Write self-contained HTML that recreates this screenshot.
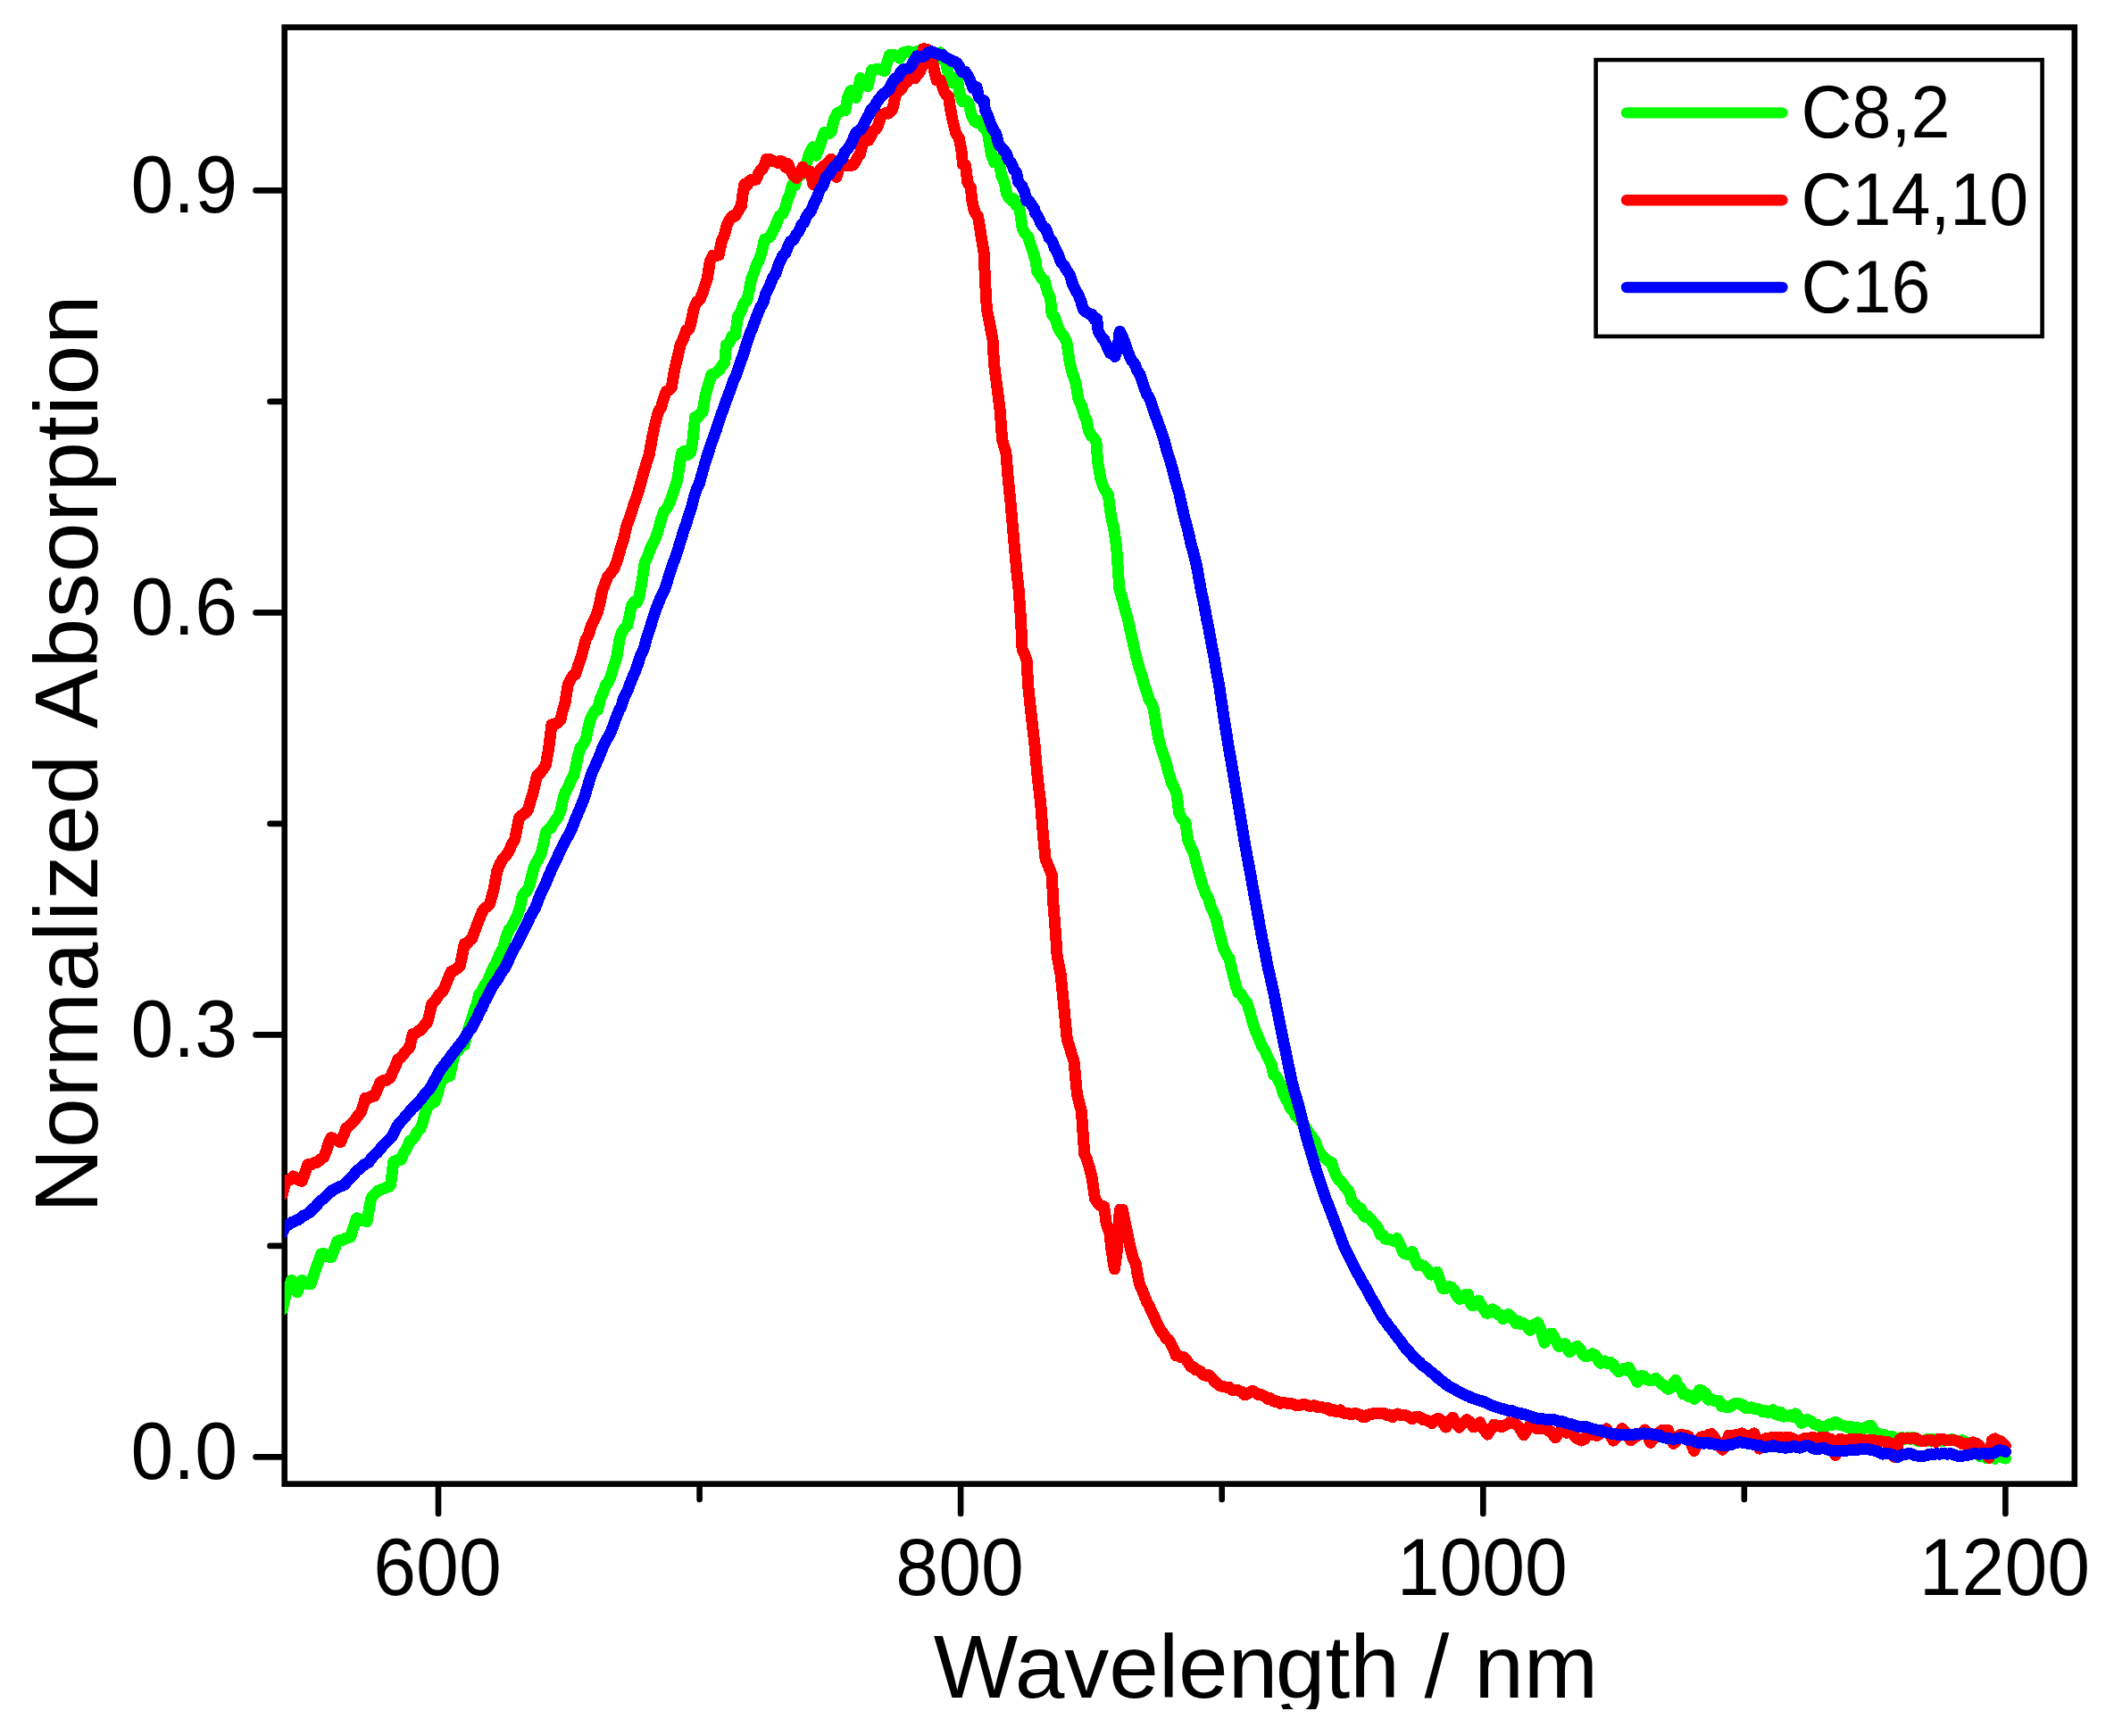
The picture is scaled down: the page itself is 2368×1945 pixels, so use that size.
<!DOCTYPE html>
<html lang="en"><head><meta charset="utf-8"><title>Normalized Absorption</title>
<style>
html,body{margin:0;padding:0;background:#fff;}
body{width:2368px;height:1945px;overflow:hidden;}
svg{display:block;}
text{font-kerning:none;font-family:"Liberation Sans",Arial,Helvetica,sans-serif;fill:#000;}
.tick{font-size:86px;}
.title{font-size:100px;}
.leg{font-size:79px;}
.curve{shape-rendering:crispEdges;fill:none;stroke-width:13;stroke-linejoin:round;stroke-linecap:round;}
</style></head><body>
<svg width="2368" height="1945" viewBox="0 0 2368 1945">
<rect x="0" y="0" width="2368" height="1945" fill="#fff"/>
<defs><clipPath id="plot"><rect x="318.7" y="30.6" width="2005.1" height="1632.0"/></clipPath>
<clipPath id="xt"><rect x="0" y="0" width="2368" height="1915"/></clipPath></defs>

<rect x="318.7" y="30.6" width="2005.1" height="1632.0" fill="none" stroke="#000" stroke-width="6.6"/>
<path d="M491.0,1665.9 V1696 M1076.1,1665.9 V1696 M1661.3,1665.9 V1696 M2246.4,1665.9 V1696 M783.6,1665.9 V1680 M1368.7,1665.9 V1680 M1953.8,1665.9 V1680 M315.4,1632.4 H286.5 M315.4,1159.4 H286.5 M315.4,686.4 H286.5 M315.4,213.4 H286.5 M315.4,1395.9 H302.5 M315.4,922.9 H302.5 M315.4,449.9 H302.5" stroke="#000" stroke-width="6.6" stroke-linecap="round" fill="none"/>
<g clip-path="url(#plot)">
<path class="curve" stroke="#00ff00" d="M316.0,1467.9 L319.9,1451.2 L323.2,1443.7 L326.5,1434.4 L329.8,1441.2 L333.1,1448.0 L335.6,1440.5 L338.1,1434.5 L341.4,1436.4 L344.7,1438.5 L348.0,1438.6 L350.9,1430.4 L353.8,1421.2 L356.7,1414.1 L359.6,1405.1 L362.5,1404.5 L365.4,1407.4 L368.3,1408.2 L371.2,1408.3 L374.5,1400.0 L377.8,1390.7 L380.8,1389.4 L383.8,1389.6 L386.7,1387.5 L389.7,1386.8 L392.7,1385.9 L396.0,1374.7 L399.4,1364.9 L402.3,1365.7 L405.2,1367.4 L408.1,1367.5 L411.0,1368.6 L413.4,1355.0 L415.9,1342.2 L419.2,1338.4 L422.6,1334.7 L425.9,1333.1 L428.8,1332.2 L431.7,1331.0 L434.6,1329.9 L437.5,1328.2 L440.8,1301.5 L443.6,1300.5 L446.3,1298.8 L449.1,1299.3 L452.4,1291.9 L455.7,1286.3 L459.0,1278.6 L461.9,1276.7 L464.8,1273.1 L467.7,1267.7 L470.6,1264.9 L473.4,1257.8 L476.1,1247.9 L478.9,1240.3 L481.6,1237.2 L484.4,1234.7 L487.1,1234.5 L490.5,1224.1 L493.8,1212.0 L497.1,1208.7 L500.4,1206.6 L503.7,1205.5 L506.2,1194.2 L508.7,1181.8 L511.6,1178.9 L514.5,1175.3 L517.4,1172.0 L520.3,1170.8 L522.8,1159.8 L525.2,1151.7 L528.5,1141.4 L531.9,1130.7 L534.3,1124.0 L536.8,1113.9 L540.1,1109.9 L543.5,1102.8 L546.8,1098.3 L549.6,1091.0 L552.3,1084.5 L555.1,1080.1 L557.8,1074.0 L560.6,1066.9 L563.3,1063.2 L566.6,1051.2 L570.0,1041.9 L573.3,1037.8 L576.6,1031.6 L579.9,1024.3 L582.4,1017.3 L584.9,1004.7 L587.6,1000.5 L590.4,997.8 L593.1,991.9 L595.6,981.8 L598.1,971.1 L600.9,965.6 L603.6,961.8 L606.4,955.1 L608.9,944.8 L611.4,932.4 L614.1,929.4 L616.9,928.0 L619.6,922.8 L622.4,918.8 L625.1,915.5 L627.9,908.5 L630.4,896.7 L632.9,888.1 L636.2,882.2 L639.5,874.4 L642.8,868.6 L645.3,857.6 L647.8,845.3 L650.6,836.6 L653.3,834.3 L656.1,828.6 L658.5,817.4 L661.0,806.7 L663.8,800.8 L666.5,796.1 L669.3,795.8 L672.6,782.6 L676.0,774.9 L678.7,767.2 L681.5,764.4 L684.2,757.8 L687.5,746.4 L690.9,735.8 L694.2,715.3 L697.0,707.6 L699.7,704.0 L702.5,701.3 L705.0,691.2 L707.4,678.4 L710.2,674.4 L712.9,675.6 L715.7,669.6 L719.0,652.0 L722.3,630.1 L725.2,624.5 L728.1,615.7 L731.0,609.7 L733.9,604.2 L737.2,594.8 L740.6,581.6 L743.9,572.4 L746.6,570.0 L749.4,565.1 L752.1,557.6 L755.5,547.8 L758.8,537.2 L761.2,521.1 L763.7,507.2 L767.0,505.4 L770.4,509.6 L773.7,506.6 L776.2,491.0 L778.6,467.2 L781.4,468.1 L784.1,463.7 L786.9,462.1 L790.2,442.7 L793.5,431.0 L796.8,419.9 L800.2,418.9 L803.5,415.9 L806.3,413.8 L809.0,409.3 L811.8,405.7 L813.4,386.6 L816.7,384.2 L820.1,376.6 L823.4,375.8 L826.7,354.4 L830.0,348.7 L833.3,339.5 L836.6,337.0 L839.1,326.1 L841.6,312.1 L844.4,305.9 L847.1,297.2 L849.9,292.3 L853.2,282.6 L856.5,268.1 L859.8,267.1 L863.1,264.5 L866.4,257.7 L869.7,250.6 L873.0,242.1 L876.4,239.7 L879.7,232.7 L882.2,223.2 L884.6,218.5 L887.6,206.6 L890.5,207.8 L893.5,196.1 L896.5,196.5 L899.6,190.6 L902.8,185.3 L906.4,172.5 L910.6,164.9 L914.2,174.2 L918.4,163.2 L920.9,155.3 L923.4,148.6 L926.0,148.9 L928.6,149.5 L931.2,147.5 L934.1,134.0 L937.6,127.1 L940.7,125.4 L943.8,123.7 L946.8,124.0 L949.7,108.9 L953.2,101.4 L956.1,104.3 L958.9,109.3 L961.4,98.7 L963.9,87.4 L966.5,90.8 L969.1,92.8 L971.7,96.9 L974.1,87.6 L976.6,78.6 L979.8,78.0 L983.0,77.3 L985.6,78.0 L988.2,78.2 L990.8,79.6 L993.7,69.8 L996.5,61.6 L999.0,62.2 L1001.5,61.4 L1004.7,62.9 L1007.8,65.2 L1012.1,58.8 L1014.9,58.2 L1017.8,57.4 L1020.6,58.8 L1023.9,59.3 L1027.2,57.7 L1030.6,56.5 L1033.4,56.7 L1036.2,59.6 L1039.1,57.4 L1041.9,59.7 L1044.7,60.5 L1047.6,59.4 L1050.4,65.8 L1053.3,58.8 L1056.1,61.5 L1058.4,65.4 L1060.7,75.8 L1064.8,92.5 L1068.5,87.6 L1072.3,88.1 L1074.6,103.8 L1078.0,113.9 L1081.5,112.6 L1084.9,115.1 L1088.4,129.7 L1091.8,135.8 L1094.7,137.9 L1097.6,135.8 L1099.9,138.9 L1102.8,144.6 L1105.7,144.5 L1107.4,154.4 L1110.3,172.8 L1113.7,182.0 L1116.3,178.3 L1118.9,180.7 L1121.8,197.0 L1125.3,204.9 L1127.6,217.0 L1129.9,221.4 L1132.7,224.4 L1135.6,222.8 L1137.9,229.9 L1141.4,232.1 L1142.5,236.3 L1145.1,255.7 L1148.4,262.1 L1151.7,265.2 L1154.5,274.6 L1157.2,282.7 L1160.0,291.8 L1161.7,303.9 L1164.5,307.7 L1167.2,312.5 L1170.0,314.0 L1173.3,326.7 L1176.6,334.4 L1178.2,352.4 L1181.6,355.5 L1184.9,366.2 L1188.2,372.5 L1191.5,376.6 L1194.8,382.7 L1198.1,405.4 L1201.4,418.7 L1204.7,427.6 L1208.0,447.4 L1211.3,454.2 L1214.7,465.9 L1217.2,470.9 L1219.6,483.2 L1222.4,488.3 L1225.1,490.5 L1227.9,494.2 L1229.6,516.5 L1232.9,537.0 L1235.7,545.0 L1238.4,549.9 L1241.2,553.7 L1244.5,578.4 L1247.6,591.5 L1250.7,613.3 L1253.8,659.4 L1257.4,671.9 L1261.0,685.9 L1263.5,694.1 L1266.0,705.8 L1269.3,720.9 L1272.6,735.2 L1275.9,747.3 L1279.3,758.2 L1281.8,767.7 L1284.2,773.9 L1287.0,783.7 L1289.7,787.5 L1292.5,795.8 L1295.0,812.1 L1297.5,826.0 L1300.3,836.7 L1303.0,845.2 L1305.8,853.5 L1309.1,866.4 L1312.4,876.8 L1315.2,882.4 L1318.0,889.3 L1320.7,911.0 L1324.3,917.8 L1328.0,921.8 L1330.6,940.8 L1333.9,949.5 L1337.2,956.1 L1339.7,966.2 L1342.2,974.8 L1344.7,984.3 L1347.2,992.5 L1350.5,1001.1 L1353.8,1007.4 L1356.6,1017.2 L1359.3,1022.3 L1362.1,1028.6 L1364.5,1039.8 L1367.0,1049.0 L1370.4,1062.0 L1373.7,1069.3 L1377.0,1073.9 L1379.5,1085.4 L1381.9,1094.8 L1384.4,1104.7 L1386.9,1112.0 L1390.2,1114.1 L1393.6,1119.9 L1396.9,1123.4 L1400.2,1134.7 L1403.5,1146.3 L1406.8,1156.0 L1410.1,1163.5 L1413.4,1172.1 L1416.2,1175.9 L1418.9,1182.2 L1421.7,1188.0 L1424.2,1192.8 L1426.7,1203.9 L1429.4,1205.6 L1432.2,1211.3 L1434.9,1216.4 L1437.4,1225.0 L1439.9,1230.0 L1442.7,1235.1 L1445.4,1241.3 L1448.2,1244.0 L1451.0,1250.0 L1453.7,1250.7 L1456.5,1255.7 L1459.2,1258.5 L1462.0,1262.1 L1464.8,1267.4 L1467.5,1270.9 L1470.2,1274.5 L1473.0,1278.5 L1476.3,1287.3 L1479.7,1293.9 L1482.6,1295.8 L1485.5,1299.3 L1488.4,1301.0 L1491.3,1302.2 L1493.8,1310.2 L1496.2,1315.8 L1499.5,1321.8 L1502.8,1324.0 L1505.6,1329.0 L1508.3,1332.1 L1511.1,1335.3 L1514.4,1346.0 L1517.7,1348.8 L1521.1,1354.2 L1524.4,1353.9 L1526.8,1360.6 L1529.3,1363.4 L1532.1,1362.3 L1534.8,1365.0 L1537.6,1369.3 L1540.5,1371.8 L1543.4,1375.6 L1546.3,1383.4 L1549.2,1384.1 L1552.0,1388.3 L1554.9,1388.0 L1558.2,1389.2 L1561.4,1390.4 L1564.7,1387.5 L1568.3,1395.0 L1572.0,1403.8 L1575.3,1405.2 L1578.5,1405.9 L1581.8,1402.5 L1584.8,1410.4 L1587.9,1417.6 L1591.6,1417.1 L1595.3,1418.5 L1598.9,1422.5 L1602.6,1428.1 L1606.3,1427.0 L1610.0,1425.5 L1613.0,1435.7 L1616.1,1443.5 L1619.4,1443.7 L1622.6,1441.8 L1625.9,1442.0 L1628.8,1445.4 L1631.6,1451.4 L1634.5,1455.4 L1637.8,1454.7 L1641.0,1450.6 L1644.3,1450.1 L1646.8,1459.5 L1649.2,1462.8 L1652.8,1461.7 L1656.5,1457.3 L1659.4,1462.5 L1662.2,1467.2 L1665.1,1471.3 L1668.4,1470.8 L1671.6,1467.0 L1674.9,1468.8 L1677.7,1472.7 L1680.6,1473.0 L1683.4,1477.5 L1686.5,1476.3 L1689.6,1472.4 L1692.4,1474.7 L1695.3,1477.9 L1698.1,1482.7 L1701.0,1480.1 L1703.8,1483.5 L1706.7,1482.7 L1710.3,1486.0 L1714.0,1490.3 L1716.9,1486.8 L1719.7,1483.4 L1722.6,1481.8 L1726.3,1491.8 L1730.0,1504.3 L1732.8,1500.3 L1735.7,1494.6 L1738.5,1494.2 L1742.2,1500.8 L1745.9,1508.3 L1749.6,1507.9 L1753.2,1505.5 L1755.7,1511.3 L1758.1,1514.9 L1761.0,1512.0 L1763.8,1510.3 L1766.7,1508.3 L1770.0,1511.6 L1773.2,1517.9 L1776.5,1519.9 L1780.2,1518.7 L1783.8,1516.8 L1786.7,1518.0 L1789.5,1522.8 L1792.4,1527.3 L1795.2,1526.9 L1797.9,1524.9 L1800.7,1527.7 L1803.4,1526.1 L1806.7,1528.4 L1809.9,1533.5 L1813.2,1536.8 L1816.0,1535.4 L1818.7,1533.6 L1821.5,1535.0 L1824.2,1532.2 L1827.5,1537.4 L1830.7,1542.5 L1834.0,1548.3 L1837.7,1541.7 L1841.4,1541.9 L1844.5,1545.5 L1847.5,1546.4 L1851.2,1546.4 L1854.8,1544.2 L1858.2,1547.6 L1861.5,1551.2 L1864.9,1552.8 L1868.3,1556.2 L1871.2,1555.4 L1874.0,1550.1 L1876.9,1546.2 L1879.7,1552.8 L1882.6,1555.5 L1885.4,1561.9 L1888.5,1562.2 L1891.6,1564.8 L1894.6,1563.4 L1897.7,1567.5 L1900.5,1564.5 L1903.4,1557.7 L1906.2,1557.9 L1909.9,1560.7 L1913.6,1568.2 L1916.4,1567.2 L1919.3,1569.1 L1922.1,1570.0 L1925.2,1569.4 L1928.2,1575.2 L1931.3,1574.7 L1934.4,1577.0 L1937.6,1576.1 L1940.8,1573.8 L1943.9,1572.2 L1947.1,1572.5 L1949.9,1573.7 L1952.7,1574.1 L1955.5,1577.6 L1958.3,1577.4 L1961.6,1576.8 L1964.9,1578.4 L1968.2,1578.2 L1971.5,1579.3 L1974.4,1581.9 L1977.3,1580.3 L1980.2,1582.5 L1983.1,1581.9 L1986.0,1579.6 L1988.9,1584.6 L1991.8,1585.2 L1994.7,1582.2 L1998.0,1587.1 L2001.3,1586.3 L2004.6,1585.9 L2008.0,1587.5 L2011.3,1583.8 L2014.6,1588.8 L2017.9,1594.3 L2021.2,1592.5 L2024.5,1590.6 L2027.8,1592.0 L2030.6,1594.1 L2033.3,1595.9 L2036.1,1596.5 L2039.4,1599.0 L2042.7,1598.5 L2046.0,1597.7 L2048.9,1595.8 L2051.8,1596.6 L2054.7,1593.6 L2057.6,1593.7 L2060.9,1596.4 L2064.2,1597.1 L2067.5,1598.0 L2070.6,1599.4 L2073.8,1598.6 L2076.9,1600.2 L2080.0,1599.1 L2083.2,1601.2 L2086.3,1601.0 L2089.4,1600.0 L2092.6,1597.8 L2095.7,1597.3 L2098.6,1603.0 L2101.5,1604.8 L2104.4,1606.4 L2107.3,1607.5 L2110.2,1607.3 L2113.1,1609.3 L2116.0,1609.0 L2118.9,1609.3 L2121.7,1610.9 L2124.4,1612.8 L2127.2,1611.7 L2130.5,1610.6 L2133.8,1612.4 L2137.1,1610.7 L2140.0,1612.2 L2142.9,1610.2 L2145.8,1612.0 L2148.7,1614.6 L2152.0,1614.7 L2155.3,1615.0 L2158.6,1612.2 L2161.6,1614.1 L2164.7,1612.0 L2167.7,1612.1 L2170.7,1614.7 L2173.8,1614.1 L2176.8,1614.5 L2179.8,1613.3 L2182.9,1613.8 L2185.9,1612.6 L2188.9,1613.2 L2192.0,1615.0 L2195.0,1615.4 L2198.3,1613.7 L2201.7,1615.5 L2205.0,1619.8 L2208.3,1620.2 L2211.6,1622.1 L2214.9,1620.9 L2218.2,1631.8 L2221.5,1631.0 L2224.8,1633.5 L2228.2,1631.5 L2231.5,1632.8 L2234.5,1634.3 L2237.5,1631.3 L2240.4,1632.3 L2243.4,1633.2 L2246.4,1634.0"/>
<path class="curve" stroke="#ff0000" d="M316.0,1338.8 L319.9,1324.5 L322.7,1322.1 L325.4,1321.7 L328.2,1318.0 L331.5,1319.6 L334.8,1322.2 L338.1,1323.3 L341.4,1315.2 L344.7,1304.9 L348.0,1305.2 L351.4,1302.9 L354.7,1302.3 L357.4,1300.7 L360.2,1298.0 L362.9,1296.2 L365.7,1288.6 L368.4,1280.2 L371.2,1274.6 L374.5,1276.3 L377.9,1277.9 L381.2,1279.9 L384.5,1272.9 L387.8,1264.2 L391.1,1261.5 L394.4,1257.9 L397.7,1254.9 L401.0,1250.0 L404.3,1246.1 L406.8,1238.5 L409.3,1230.3 L412.6,1230.6 L415.9,1228.2 L419.2,1228.1 L422.5,1221.0 L425.9,1212.9 L428.8,1210.6 L431.7,1210.8 L434.6,1209.3 L437.5,1207.0 L440.2,1200.1 L443.0,1194.5 L445.7,1186.8 L449.0,1185.0 L452.4,1180.5 L455.7,1176.8 L459.0,1172.9 L462.3,1158.5 L465.1,1157.9 L467.8,1155.5 L470.6,1154.5 L473.4,1151.7 L476.1,1147.7 L478.9,1145.1 L481.4,1135.0 L483.8,1124.8 L486.6,1122.1 L489.3,1118.4 L492.1,1114.0 L495.4,1111.2 L498.7,1104.8 L502.0,1096.6 L505.4,1088.3 L508.7,1087.3 L512.0,1085.2 L515.3,1081.9 L517.8,1070.1 L520.3,1057.7 L523.1,1057.5 L525.8,1053.5 L528.6,1052.2 L531.0,1045.1 L533.5,1038.5 L536.8,1030.2 L540.1,1021.5 L542.9,1017.8 L545.6,1015.8 L548.4,1013.2 L550.9,1004.5 L553.4,995.0 L556.7,976.4 L560.0,968.0 L563.3,962.4 L566.6,958.6 L570.0,953.9 L573.3,946.0 L576.6,940.5 L579.1,927.9 L581.6,916.4 L584.9,913.3 L588.2,911.2 L591.5,907.2 L594.0,898.0 L596.5,890.5 L599.0,880.3 L601.4,869.4 L604.7,866.4 L608.1,862.1 L611.4,857.1 L614.7,838.3 L618.0,811.9 L621.3,811.4 L624.6,809.7 L627.9,806.4 L630.4,795.9 L632.9,787.8 L636.2,767.0 L639.0,761.9 L641.7,756.7 L644.5,755.8 L647.8,745.1 L651.1,735.9 L653.6,726.4 L656.1,716.6 L659.4,710.8 L662.7,699.7 L666.0,693.4 L669.3,686.0 L671.8,676.0 L674.3,663.4 L677.6,654.0 L680.9,645.7 L684.2,642.1 L687.6,637.3 L690.9,629.4 L694.6,616.8 L698.3,604.9 L701.3,591.6 L704.2,582.9 L707.2,574.7 L710.1,564.7 L713.1,556.9 L716.0,547.3 L719.0,536.5 L721.8,526.6 L724.5,517.7 L727.3,509.0 L730.6,489.7 L733.9,474.7 L737.2,462.0 L740.6,456.1 L743.9,444.8 L746.6,438.2 L749.4,437.3 L752.1,434.6 L755.5,414.8 L758.8,400.8 L762.1,386.5 L765.4,379.3 L768.7,369.8 L772.0,368.6 L774.5,359.2 L777.0,346.8 L780.3,338.5 L783.6,336.0 L786.9,329.1 L789.4,320.4 L791.9,313.9 L795.2,293.7 L798.5,286.1 L801.8,286.4 L805.1,285.9 L808.4,270.3 L811.7,262.1 L814.5,251.5 L817.5,246.1 L820.6,241.7 L823.6,242.1 L827.0,236.3 L830.4,230.6 L832.1,216.5 L833.8,206.5 L836.4,208.4 L839.1,203.0 L841.7,201.4 L844.4,201.1 L847.0,201.1 L849.7,194.2 L852.0,190.7 L854.2,189.1 L856.5,184.6 L858.8,178.1 L861.0,181.2 L863.3,178.9 L865.9,180.3 L868.4,181.2 L871.3,182.5 L874.1,180.3 L876.9,181.3 L879.8,187.2 L882.6,183.7 L885.3,190.1 L887.9,195.8 L890.6,197.2 L892.3,199.5 L896.2,192.8 L899.1,187.0 L901.9,193.6 L904.8,191.4 L907.6,192.0 L911.0,206.8 L913.8,197.5 L916.7,193.3 L919.5,189.0 L922.4,186.3 L925.2,185.6 L928.0,181.4 L930.9,178.2 L933.7,180.4 L937.1,198.3 L940.0,187.9 L942.8,185.3 L945.6,185.6 L948.5,184.6 L951.9,185.9 L955.3,185.1 L957.9,181.4 L960.6,176.2 L963.2,173.3 L966.6,159.3 L970.0,151.1 L972.9,157.2 L975.7,151.8 L978.4,146.3 L981.0,145.1 L983.7,140.0 L987.1,129.1 L989.9,127.9 L992.7,126.4 L995.5,127.1 L997.8,124.4 L1000.0,121.8 L1002.9,107.8 L1006.1,101.1 L1009.3,100.6 L1013.5,92.7 L1016.4,91.7 L1019.2,85.2 L1022.0,80.8 L1024.9,87.7 L1027.7,83.3 L1030.6,80.2 L1034.8,69.4 L1034.1,54.7 L1038.4,55.3 L1040.8,58.9 L1043.3,63.1 L1046.3,78.1 L1049.2,89.9 L1053.2,89.8 L1055.6,96.9 L1057.9,103.5 L1060.2,106.3 L1062.5,107.9 L1064.0,118.8 L1067.1,134.7 L1070.5,148.6 L1074.6,155.8 L1076.9,168.7 L1078.6,184.4 L1081.5,185.3 L1083.8,204.4 L1087.2,209.9 L1089.0,225.6 L1090.7,233.7 L1092.4,238.5 L1095.4,241.8 L1098.7,262.2 L1102.1,282.7 L1103.7,317.8 L1105.4,346.3 L1108.7,362.8 L1112.0,380.8 L1113.6,408.3 L1117.0,434.7 L1120.3,461.3 L1122.6,492.6 L1126.9,507.3 L1129.2,535.7 L1131.9,561.9 L1136.3,612.4 L1138.7,638.3 L1141.1,660.5 L1143.5,694.0 L1145.1,727.7 L1147.6,732.8 L1150.1,740.3 L1151.7,768.7 L1155.1,800.6 L1159.0,834.6 L1161.7,865.8 L1165.7,900.8 L1168.3,933.7 L1171.0,961.9 L1174.6,971.0 L1178.2,979.7 L1179.9,1012.6 L1182.2,1042.5 L1184.2,1071.4 L1188.2,1092.0 L1190.8,1118.1 L1195.3,1164.5 L1197.9,1172.1 L1200.5,1181.9 L1203.1,1189.6 L1206.4,1225.3 L1208.9,1235.6 L1211.4,1244.9 L1214.7,1292.6 L1217.2,1297.9 L1219.6,1305.6 L1223.2,1319.6 L1226.6,1343.3 L1231.1,1349.7 L1233.9,1351.3 L1236.6,1351.8 L1238.0,1361.0 L1239.1,1370.5 L1242.9,1382.0 L1244.9,1399.8 L1248.4,1421.9 L1251.2,1402.1 L1253.2,1368.3 L1254.6,1355.1 L1257.4,1355.3 L1259.8,1368.1 L1262.2,1378.8 L1266.4,1398.9 L1269.1,1409.2 L1272.6,1416.5 L1273.3,1423.6 L1276.7,1439.4 L1280.5,1448.1 L1284.2,1457.7 L1287.0,1462.8 L1289.7,1468.7 L1292.5,1474.2 L1295.3,1481.0 L1298.0,1486.7 L1300.8,1491.7 L1303.6,1494.9 L1306.3,1500.2 L1309.1,1501.2 L1311.9,1506.5 L1314.6,1511.5 L1317.4,1519.0 L1320.1,1518.8 L1322.9,1520.6 L1325.6,1520.4 L1328.4,1523.0 L1331.1,1526.9 L1333.9,1531.3 L1336.7,1531.5 L1339.4,1534.8 L1342.2,1535.3 L1344.7,1536.7 L1347.2,1540.0 L1350.5,1541.2 L1353.8,1540.6 L1357.1,1543.4 L1360.4,1547.6 L1363.7,1550.5 L1367.0,1552.9 L1370.3,1553.5 L1373.7,1554.3 L1377.0,1554.4 L1379.8,1557.3 L1382.5,1557.8 L1385.3,1557.0 L1388.0,1558.4 L1390.8,1559.2 L1393.5,1562.5 L1396.8,1562.1 L1400.2,1559.6 L1403.5,1558.2 L1406.8,1560.8 L1410.1,1562.9 L1413.4,1562.7 L1416.7,1564.7 L1420.0,1567.4 L1423.3,1566.8 L1426.7,1570.2 L1430.0,1569.8 L1433.3,1572.2 L1436.6,1571.9 L1439.9,1571.9 L1443.2,1572.3 L1446.0,1572.5 L1448.9,1573.0 L1451.7,1574.5 L1454.6,1574.6 L1457.4,1574.1 L1460.3,1573.1 L1463.1,1574.2 L1466.4,1575.2 L1469.7,1575.0 L1473.0,1574.9 L1476.3,1576.9 L1479.1,1576.6 L1482.0,1577.0 L1484.8,1578.1 L1487.7,1577.6 L1490.5,1580.6 L1493.4,1579.2 L1496.2,1581.5 L1499.0,1581.6 L1501.7,1579.9 L1504.5,1583.1 L1507.3,1583.4 L1510.0,1583.1 L1512.8,1584.8 L1515.5,1584.1 L1518.3,1583.3 L1521.0,1584.2 L1523.8,1585.2 L1526.5,1587.4 L1529.3,1587.9 L1532.6,1584.9 L1536.0,1584.7 L1539.3,1583.1 L1542.0,1583.5 L1544.7,1583.8 L1547.3,1584.0 L1550.0,1583.1 L1553.3,1585.5 L1556.5,1585.0 L1559.8,1587.8 L1562.8,1585.3 L1565.9,1584.0 L1568.8,1585.8 L1571.6,1585.3 L1574.5,1585.9 L1578.2,1587.3 L1581.8,1589.7 L1584.8,1587.7 L1587.9,1587.3 L1590.8,1587.8 L1593.6,1590.5 L1596.5,1590.8 L1600.2,1592.1 L1603.9,1594.6 L1607.6,1591.2 L1611.2,1589.1 L1614.1,1591.1 L1616.9,1595.2 L1619.8,1599.1 L1623.4,1592.6 L1627.1,1588.0 L1630.8,1594.6 L1634.5,1599.3 L1637.3,1595.5 L1640.2,1593.5 L1643.0,1590.6 L1646.7,1593.4 L1650.4,1598.7 L1654.1,1597.9 L1657.7,1593.7 L1660.6,1599.5 L1663.4,1603.1 L1666.3,1607.1 L1669.9,1601.3 L1673.6,1596.3 L1676.5,1597.3 L1679.3,1597.0 L1682.2,1598.9 L1685.1,1596.9 L1687.9,1595.9 L1690.8,1593.8 L1693.6,1594.6 L1696.5,1594.7 L1699.3,1596.5 L1703.0,1601.2 L1706.7,1607.7 L1710.3,1602.6 L1714.0,1596.9 L1717.7,1597.8 L1721.4,1600.4 L1724.7,1600.6 L1727.9,1600.7 L1731.2,1600.1 L1734.0,1602.8 L1736.7,1603.6 L1739.5,1606.9 L1742.2,1610.8 L1745.8,1605.9 L1749.5,1601.4 L1752.3,1603.3 L1755.0,1605.4 L1757.8,1604.1 L1760.6,1605.0 L1763.3,1608.3 L1766.1,1611.6 L1768.8,1612.3 L1771.6,1614.0 L1775.2,1612.0 L1778.9,1606.3 L1782.2,1606.9 L1785.4,1607.8 L1788.7,1608.5 L1791.5,1607.0 L1794.2,1603.9 L1797.0,1602.1 L1799.7,1600.9 L1803.4,1606.9 L1807.1,1614.1 L1810.4,1611.1 L1813.6,1607.2 L1816.9,1600.6 L1820.2,1603.7 L1823.4,1609.4 L1826.7,1613.8 L1829.5,1611.6 L1832.4,1608.9 L1835.2,1608.2 L1838.9,1605.2 L1842.6,1602.0 L1845.7,1608.0 L1848.7,1616.3 L1852.0,1612.4 L1855.2,1607.5 L1858.5,1604.8 L1861.8,1602.5 L1865.0,1602.2 L1868.3,1602.3 L1871.3,1609.3 L1874.4,1617.4 L1877.3,1614.9 L1880.1,1609.5 L1883.0,1607.1 L1885.8,1607.9 L1888.7,1608.3 L1891.5,1609.3 L1894.6,1618.0 L1897.7,1625.5 L1901.3,1617.4 L1905.0,1610.5 L1908.1,1609.1 L1911.2,1609.5 L1914.2,1607.4 L1917.3,1606.5 L1920.3,1610.5 L1923.4,1615.2 L1926.5,1620.8 L1929.5,1624.2 L1933.2,1617.3 L1936.8,1608.2 L1939.7,1608.8 L1942.5,1608.1 L1945.4,1607.6 L1948.3,1607.0 L1951.1,1605.9 L1953.8,1607.9 L1956.6,1608.1 L1959.4,1608.0 L1962.1,1608.1 L1964.9,1605.9 L1967.8,1616.1 L1970.7,1623.1 L1973.6,1617.3 L1976.5,1612.5 L1979.6,1611.1 L1982.6,1611.3 L1985.7,1610.1 L1988.8,1610.4 L1991.9,1610.5 L1994.9,1610.5 L1998.0,1611.5 L2001.0,1610.3 L2004.1,1610.7 L2007.1,1611.0 L2010.1,1613.2 L2013.2,1614.2 L2016.2,1613.9 L2019.1,1612.9 L2022.1,1611.4 L2025.0,1613.1 L2028.0,1610.9 L2030.9,1610.4 L2033.9,1611.5 L2036.8,1612.2 L2039.8,1610.3 L2042.7,1611.7 L2045.5,1610.4 L2048.2,1612.5 L2051.0,1612.1 L2053.5,1621.2 L2056.0,1630.3 L2058.4,1621.9 L2060.9,1612.2 L2063.9,1613.1 L2066.9,1613.2 L2069.8,1613.8 L2072.8,1612.3 L2075.8,1613.3 L2078.8,1612.5 L2081.8,1612.2 L2084.7,1612.9 L2087.7,1614.0 L2090.7,1613.3 L2093.7,1613.1 L2096.8,1613.1 L2099.8,1613.9 L2102.8,1614.5 L2105.9,1614.5 L2108.9,1615.0 L2111.7,1615.0 L2114.4,1615.5 L2117.2,1616.9 L2119.7,1624.6 L2122.2,1632.5 L2124.7,1623.9 L2127.2,1613.6 L2130.1,1611.4 L2132.9,1611.6 L2135.8,1611.3 L2138.7,1611.3 L2142.0,1611.5 L2145.3,1611.0 L2148.7,1613.0 L2152.0,1614.4 L2154.8,1614.9 L2157.5,1614.0 L2160.2,1613.4 L2163.0,1613.0 L2165.8,1614.6 L2168.5,1615.4 L2172.2,1612.3 L2176.0,1612.4 L2179.1,1613.3 L2182.3,1613.8 L2185.4,1613.5 L2188.6,1613.7 L2191.7,1614.2 L2195.0,1615.5 L2198.4,1617.9 L2201.7,1617.0 L2204.4,1618.1 L2207.2,1617.1 L2209.9,1615.9 L2213.2,1617.1 L2216.6,1619.1 L2219.5,1623.2 L2222.3,1625.0 L2225.2,1627.8 L2228.1,1633.3 L2231.5,1613.5 L2234.8,1611.9 L2237.7,1613.6 L2240.6,1614.4 L2243.5,1617.5 L2246.4,1619.8"/>
<path class="curve" stroke="#0000ff" d="M316.0,1382.1 L319.9,1373.4 L323.2,1372.0 L326.5,1369.7 L329.8,1368.4 L333.1,1367.0 L336.4,1365.0 L339.8,1362.1 L343.1,1360.6 L346.4,1358.5 L349.7,1355.1 L353.0,1352.3 L356.3,1348.5 L359.6,1345.0 L362.9,1342.7 L366.2,1339.5 L369.6,1336.2 L372.9,1333.3 L376.2,1331.8 L379.5,1329.7 L382.8,1328.7 L386.1,1327.2 L389.4,1323.1 L392.8,1319.9 L396.1,1316.2 L399.4,1312.1 L402.7,1309.7 L406.0,1306.6 L409.3,1304.0 L412.6,1302.7 L415.9,1298.1 L419.2,1294.3 L422.6,1291.3 L425.9,1287.4 L429.2,1283.3 L432.5,1280.3 L435.8,1276.9 L439.1,1273.6 L442.4,1266.6 L445.7,1260.6 L449.0,1256.6 L452.4,1253.0 L455.7,1249.0 L459.0,1245.2 L462.3,1241.4 L465.6,1238.7 L468.9,1234.8 L472.2,1230.9 L475.5,1226.4 L478.9,1222.6 L482.2,1218.7 L485.5,1212.9 L488.8,1206.5 L492.1,1200.7 L495.4,1196.0 L498.8,1191.5 L502.1,1187.6 L505.4,1182.7 L508.7,1178.5 L512.0,1174.1 L515.3,1170.1 L518.6,1165.8 L522.0,1160.5 L525.3,1155.5 L528.6,1151.5 L531.5,1145.5 L534.4,1140.3 L537.2,1133.5 L540.1,1128.9 L543.0,1121.8 L545.9,1116.8 L548.8,1110.8 L551.7,1104.8 L555.0,1100.7 L558.4,1095.5 L561.7,1089.6 L565.0,1085.2 L568.3,1078.8 L571.6,1071.3 L574.9,1064.7 L578.2,1058.9 L581.5,1052.5 L584.9,1045.5 L588.2,1038.8 L591.1,1033.1 L594.0,1026.9 L596.9,1022.1 L599.8,1016.5 L602.7,1009.0 L605.6,1001.6 L608.5,995.6 L611.4,989.7 L614.4,982.2 L617.4,975.2 L620.3,968.7 L623.3,963.0 L626.3,956.2 L629.3,949.6 L632.3,944.3 L635.2,938.6 L638.2,933.1 L641.2,926.8 L644.5,917.8 L647.8,910.3 L651.1,902.2 L654.4,893.9 L657.2,884.8 L659.9,875.6 L662.7,866.6 L665.6,860.7 L668.5,853.6 L671.4,847.2 L674.3,839.5 L677.6,832.6 L680.9,826.3 L684.2,820.4 L687.1,812.9 L690.0,804.6 L692.9,797.1 L695.8,791.5 L699.1,781.1 L702.5,774.9 L705.8,766.2 L709.1,757.5 L712.0,751.1 L714.9,742.9 L717.8,733.7 L720.7,728.6 L724.0,716.2 L727.3,706.5 L730.6,695.2 L733.9,685.1 L737.2,676.5 L740.6,668.2 L743.9,662.0 L746.8,653.8 L749.6,643.9 L752.5,635.2 L755.4,627.7 L758.7,618.0 L762.1,606.8 L765.4,596.1 L768.4,587.5 L771.4,577.8 L774.3,569.1 L777.3,557.4 L780.3,548.4 L783.1,542.4 L785.8,532.7 L788.6,522.9 L791.4,513.4 L794.1,505.3 L796.9,496.4 L799.6,489.3 L802.4,481.4 L805.1,472.7 L807.9,464.6 L810.6,457.2 L813.4,449.2 L816.2,441.4 L818.9,434.8 L821.7,426.0 L824.5,420.8 L827.2,412.1 L830.0,404.0 L832.8,397.0 L835.5,387.7 L838.2,379.1 L841.0,371.6 L843.8,365.0 L846.5,357.3 L849.3,350.2 L852.0,343.8 L854.8,339.4 L857.6,329.3 L860.3,324.5 L863.1,317.6 L865.9,311.1 L868.6,307.0 L871.4,298.7 L874.2,291.8 L876.9,286.2 L879.7,283.9 L882.8,276.0 L885.8,270.0 L888.9,269.0 L892.0,262.5 L895.0,259.0 L898.1,251.1 L900.8,249.4 L903.6,241.8 L906.3,238.8 L908.8,235.9 L911.3,229.0 L914.9,222.3 L918.4,212.3 L922.0,208.0 L925.6,197.5 L928.6,196.3 L931.6,190.3 L934.6,186.5 L937.4,186.1 L940.3,180.0 L943.2,178.1 L946.4,169.9 L949.5,166.8 L952.9,161.9 L956.2,154.7 L958.9,148.6 L961.6,146.9 L964.2,145.2 L966.8,141.2 L970.0,134.2 L973.2,128.7 L976.3,121.9 L979.5,120.4 L982.2,114.0 L984.9,111.2 L987.6,107.2 L990.4,104.6 L993.3,102.5 L996.2,99.8 L999.7,92.1 L1003.1,87.4 L1006.3,86.4 L1009.4,79.8 L1012.3,77.4 L1015.2,77.0 L1017.9,76.5 L1020.6,73.9 L1023.3,69.2 L1027.0,63.0 L1030.8,64.0 L1033.8,63.6 L1036.9,61.9 L1040.0,58.6 L1043.2,57.8 L1046.3,59.0 L1049.5,60.3 L1052.7,61.5 L1055.9,61.4 L1059.2,64.3 L1062.5,66.0 L1065.9,68.2 L1069.4,69.1 L1072.0,70.7 L1074.6,74.9 L1078.0,80.9 L1081.5,80.6 L1083.8,84.4 L1086.1,88.4 L1090.1,99.0 L1094.1,97.7 L1096.5,109.2 L1099.3,111.5 L1102.2,112.9 L1103.4,123.4 L1106.8,130.0 L1109.1,137.1 L1112.0,144.2 L1116.0,150.4 L1118.3,160.3 L1120.6,164.0 L1122.9,166.7 L1127.0,171.2 L1129.3,178.6 L1131.6,181.1 L1133.9,185.4 L1136.2,190.6 L1138.5,193.3 L1140.8,204.0 L1144.8,208.4 L1147.7,215.1 L1150.0,224.8 L1152.6,224.9 L1155.2,229.1 L1158.7,234.0 L1159.8,239.0 L1162.6,242.2 L1165.5,249.3 L1168.3,253.8 L1171.6,256.3 L1174.9,266.1 L1178.2,269.7 L1181.5,278.0 L1184.9,284.1 L1188.2,293.4 L1191.5,296.8 L1194.8,302.7 L1198.1,307.6 L1201.8,318.9 L1204.9,325.1 L1208.0,330.6 L1210.7,337.3 L1213.5,346.5 L1216.7,349.6 L1220.0,351.6 L1223.2,352.2 L1225.9,358.0 L1228.7,357.0 L1230.1,370.9 L1234.2,378.1 L1237.0,380.9 L1239.8,387.5 L1243.2,395.5 L1246.0,396.3 L1248.8,399.6 L1252.2,390.4 L1253.6,374.8 L1254.6,371.4 L1259.1,381.4 L1263.3,394.0 L1267.4,403.3 L1271.6,409.1 L1274.0,415.4 L1276.4,418.6 L1280.6,430.7 L1284.0,440.3 L1287.5,446.3 L1290.9,455.2 L1294.2,465.4 L1297.5,474.3 L1300.8,483.4 L1304.1,493.6 L1307.4,506.3 L1310.7,516.2 L1314.0,527.9 L1317.4,541.3 L1320.7,552.3 L1324.0,567.6 L1327.3,581.9 L1330.6,593.5 L1333.9,608.6 L1337.2,620.6 L1340.5,634.2 L1343.3,649.7 L1346.0,664.7 L1348.8,677.3 L1351.6,692.9 L1354.3,706.1 L1357.1,722.0 L1359.9,735.5 L1362.6,752.2 L1365.4,766.2 L1368.7,788.9 L1372.0,810.9 L1374.8,827.8 L1377.5,844.0 L1380.3,860.1 L1383.6,879.6 L1386.9,900.0 L1390.2,919.9 L1393.5,939.7 L1396.8,958.1 L1400.2,976.3 L1403.5,994.9 L1406.8,1012.6 L1410.1,1031.2 L1413.4,1049.2 L1416.7,1065.2 L1420.0,1082.4 L1423.3,1096.6 L1426.7,1112.2 L1429.7,1127.4 L1432.8,1142.6 L1435.8,1157.8 L1438.5,1170.5 L1441.2,1183.2 L1443.8,1196.0 L1446.5,1209.5 L1449.8,1222.0 L1453.2,1233.4 L1456.5,1245.3 L1459.3,1257.1 L1462.0,1268.3 L1464.8,1278.5 L1468.1,1289.5 L1471.4,1300.5 L1474.7,1312.1 L1478.0,1322.3 L1481.3,1331.6 L1484.6,1342.1 L1487.5,1348.7 L1490.4,1356.4 L1493.3,1364.2 L1496.2,1371.9 L1499.5,1380.4 L1502.9,1389.5 L1506.2,1397.9 L1509.5,1404.6 L1512.8,1411.4 L1516.1,1417.4 L1519.4,1424.3 L1522.7,1430.2 L1526.1,1436.4 L1529.4,1441.7 L1532.7,1447.5 L1535.8,1453.8 L1538.8,1458.8 L1541.9,1464.0 L1544.9,1469.8 L1548.0,1475.2 L1550.9,1479.3 L1553.9,1483.1 L1556.8,1487.3 L1559.8,1490.8 L1562.8,1495.1 L1565.9,1499.0 L1569.0,1502.9 L1572.0,1507.0 L1575.1,1511.2 L1578.2,1514.2 L1581.2,1517.7 L1584.3,1521.6 L1587.2,1523.9 L1590.2,1526.2 L1593.1,1529.5 L1596.1,1531.6 L1599.0,1533.5 L1602.0,1536.5 L1605.1,1538.6 L1608.2,1541.3 L1611.2,1544.3 L1614.3,1546.7 L1617.3,1548.6 L1620.4,1551.4 L1623.5,1553.6 L1626.5,1554.7 L1629.6,1556.5 L1632.7,1558.5 L1635.7,1560.0 L1638.8,1561.5 L1641.8,1563.2 L1644.9,1564.2 L1647.9,1566.0 L1651.0,1567.0 L1654.1,1568.1 L1657.1,1568.9 L1660.2,1569.9 L1663.2,1570.9 L1666.3,1572.4 L1669.4,1574.2 L1672.4,1575.2 L1675.5,1576.3 L1678.6,1577.3 L1681.6,1578.1 L1684.7,1579.0 L1687.8,1580.1 L1690.8,1580.4 L1693.9,1580.7 L1696.9,1582.1 L1700.0,1583.1 L1703.0,1583.3 L1706.0,1584.7 L1709.1,1585.0 L1712.2,1586.0 L1715.2,1586.9 L1718.3,1588.3 L1721.4,1589.2 L1724.3,1589.7 L1727.3,1589.7 L1730.2,1590.1 L1733.2,1590.4 L1736.1,1590.4 L1739.0,1590.5 L1742.0,1591.0 L1744.9,1592.2 L1747.9,1592.6 L1750.8,1592.9 L1753.7,1594.2 L1756.7,1595.1 L1759.6,1595.6 L1762.6,1596.4 L1765.5,1597.6 L1768.3,1598.5 L1771.2,1598.9 L1774.0,1598.4 L1776.9,1598.8 L1779.8,1599.6 L1782.6,1600.5 L1785.6,1601.4 L1788.7,1602.3 L1791.8,1602.4 L1794.8,1603.5 L1797.7,1604.7 L1800.5,1605.0 L1803.4,1605.5 L1806.3,1606.7 L1809.1,1606.4 L1812.0,1607.5 L1814.9,1607.9 L1817.9,1607.7 L1820.8,1607.9 L1823.8,1607.3 L1826.7,1607.6 L1829.6,1607.7 L1832.6,1606.6 L1835.5,1606.7 L1838.5,1607.0 L1841.4,1605.9 L1844.3,1606.7 L1847.2,1607.0 L1850.2,1606.7 L1853.1,1607.7 L1856.0,1607.8 L1858.9,1608.1 L1861.9,1610.0 L1864.8,1610.8 L1867.8,1611.4 L1870.7,1611.9 L1873.6,1612.4 L1876.6,1612.0 L1879.5,1611.9 L1882.5,1610.9 L1885.4,1611.1 L1888.3,1612.4 L1891.3,1613.3 L1894.2,1613.7 L1897.2,1614.8 L1900.1,1616.0 L1903.0,1616.2 L1905.8,1616.9 L1908.7,1617.1 L1911.6,1616.4 L1914.4,1617.2 L1917.3,1616.9 L1920.2,1618.1 L1923.0,1618.1 L1925.8,1618.9 L1928.7,1619.3 L1931.6,1619.7 L1934.4,1619.4 L1937.2,1618.4 L1940.0,1618.3 L1942.7,1617.2 L1945.5,1616.7 L1948.3,1615.5 L1951.3,1616.1 L1954.4,1616.9 L1957.4,1617.1 L1960.5,1617.8 L1963.5,1618.2 L1966.6,1619.1 L1969.9,1619.3 L1973.2,1620.5 L1976.5,1621.5 L1979.8,1621.0 L1983.1,1620.7 L1986.4,1619.6 L1989.7,1620.8 L1993.1,1621.2 L1996.4,1621.5 L1999.7,1622.3 L2003.0,1621.5 L2006.3,1621.2 L2009.6,1620.0 L2012.9,1621.7 L2016.2,1622.1 L2019.0,1620.9 L2021.7,1620.1 L2024.5,1619.5 L2027.8,1620.8 L2031.1,1622.8 L2034.4,1623.7 L2037.2,1623.7 L2039.9,1622.5 L2042.7,1622.0 L2046.0,1623.8 L2049.3,1624.8 L2052.6,1625.9 L2055.4,1625.1 L2058.1,1625.1 L2060.9,1625.7 L2063.7,1625.3 L2066.4,1625.1 L2069.2,1625.1 L2072.5,1624.8 L2075.8,1624.2 L2079.1,1624.0 L2082.0,1624.1 L2084.9,1623.1 L2087.8,1623.5 L2090.7,1623.1 L2093.5,1623.9 L2096.2,1624.6 L2099.0,1625.1 L2102.3,1625.7 L2105.6,1627.7 L2108.9,1629.1 L2111.7,1628.7 L2114.4,1628.3 L2117.2,1629.1 L2120.0,1630.0 L2122.7,1631.3 L2125.5,1632.4 L2128.4,1631.3 L2131.3,1629.6 L2134.2,1629.5 L2137.1,1628.5 L2140.1,1628.7 L2143.1,1629.9 L2146.0,1630.9 L2149.0,1631.2 L2152.0,1631.9 L2154.9,1631.4 L2157.8,1630.7 L2160.7,1629.5 L2163.6,1629.0 L2166.7,1629.3 L2169.7,1628.7 L2172.8,1629.2 L2175.9,1628.4 L2179.0,1628.9 L2182.0,1629.1 L2185.1,1628.7 L2188.4,1629.7 L2191.7,1630.8 L2195.0,1632.0 L2197.8,1631.4 L2200.5,1630.9 L2203.3,1630.2 L2206.1,1630.0 L2208.8,1629.1 L2211.6,1628.6 L2214.4,1628.8 L2217.3,1629.2 L2220.1,1628.6 L2223.0,1628.5 L2225.8,1629.1 L2228.7,1628.9 L2231.5,1628.4 L2234.2,1627.9 L2237.0,1625.8 L2239.7,1624.8 L2243.1,1625.2 L2246.4,1626.6"/>
</g>
<text class="tick" transform="translate(490.0,1787) scale(1,1.06)" text-anchor="middle">600</text>
<text class="tick" transform="translate(1075.1,1787) scale(1,1.06)" text-anchor="middle">800</text>
<text class="tick" transform="translate(1660.3,1787) scale(1,1.06)" text-anchor="middle">1000</text>
<text class="tick" transform="translate(2245.4,1787) scale(1,1.06)" text-anchor="middle">1200</text>
<text class="tick" transform="translate(266,1656.9) scale(1,1.06)" text-anchor="end">0.0</text>
<text class="tick" transform="translate(266,1183.9) scale(1,1.06)" text-anchor="end">0.3</text>
<text class="tick" transform="translate(266,710.9) scale(1,1.06)" text-anchor="end">0.6</text>
<text class="tick" transform="translate(266,237.9) scale(1,1.06)" text-anchor="end">0.9</text>
<g clip-path="url(#xt)"><text class="title" x="1045.8 1136.7 1192.3 1242.3 1297.9 1320.1 1375.7 1428.8" y="1902">Wavelength / nm</text></g>
<text class="title" transform="translate(108.8,1359) rotate(-90)" letter-spacing="0.85">Normalized Absorption</text>
<rect x="1787.6" y="67.1" width="500" height="309.8" fill="#fff" stroke="#000" stroke-width="4.6"/>
<path d="M1822,126.4 H1996.4" stroke="#00ff00" stroke-width="12.4" stroke-linecap="round" fill="none"/>
<text class="leg" transform="translate(2017.5,153.9) scale(1,1.05)">C8,2</text>
<path d="M1822,224.2 H1996.4" stroke="#ff0000" stroke-width="12.4" stroke-linecap="round" fill="none"/>
<text class="leg" transform="translate(2017.5,251.7) scale(1,1.05)">C14,10</text>
<path d="M1822,322.0 H1996.4" stroke="#0000ff" stroke-width="12.4" stroke-linecap="round" fill="none"/>
<text class="leg" transform="translate(2017.5,349.5) scale(1,1.05)">C16</text>
</svg></body></html>
